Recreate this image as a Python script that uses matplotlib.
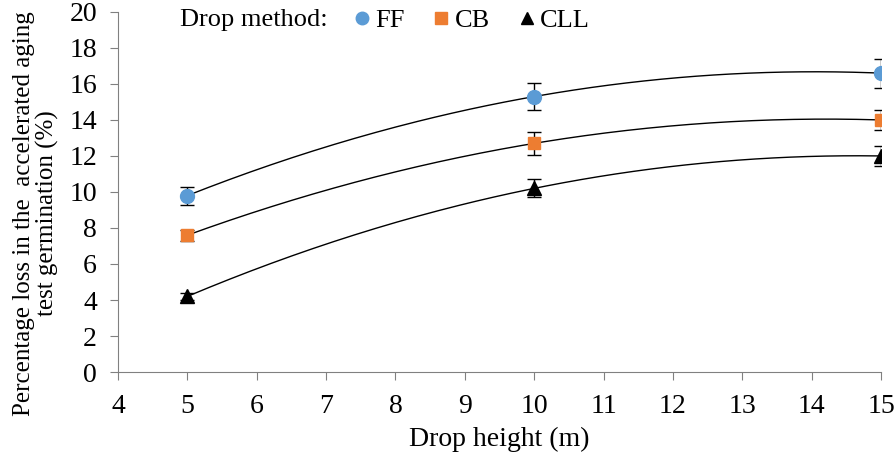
import numpy as np
import matplotlib.pyplot as plt

plt.rcParams['font.family'] = ['Liberation Serif', 'DejaVu Serif']

heights = [5, 10, 15]
ff = [9.8, 15.3, 16.6]
cb = [7.6, 12.7, 14.0]
cll = [4.2, 10.2, 12.0]
ff_err = [0.5, 0.75, 0.8]
cb_err = [0.3, 0.65, 0.55]
cll_err = [0.2, 0.5, 0.55]

fig = plt.figure(figsize=(8.96, 4.59), dpi=100)
ax = fig.add_axes([0.1317, 0.1895, 0.8516, 0.7845])

series = [
    ('FF', ff, ff_err, 'o', '#5B9BD5', 10),
    ('CB', cb, cb_err, 's', '#ED7D31', 9),
    ('CLL', cll, cll_err, '^', '#000000', 10),
]
xs = np.linspace(5, 15, 200)
for name, vals, err, mk, col, ms in series:
    coef = np.polyfit(heights, vals, 2)
    ax.plot(xs, np.polyval(coef, xs), color='black', lw=1, zorder=2)
    ax.errorbar(heights, vals, yerr=err, fmt='none', ecolor='black',
                elinewidth=1, capsize=5, capthick=1, zorder=3)
    ax.plot(heights, vals, linestyle='none', marker=mk, color=col,
            markersize=ms, label=name, zorder=4)

ax.set_xlim(4, 15)
ax.set_ylim(0, 20)
ax.set_xticks(range(4, 16))
ax.set_yticks(range(0, 21, 2))
ax.tick_params(labelsize=20, direction='out', length=5.8, color='#808080')
ax.tick_params(axis='x', pad=10)
ax.tick_params(axis='y', pad=9.4)
for s in ['top', 'right']:
    ax.spines[s].set_visible(False)
for s in ['left', 'bottom']:
    ax.spines[s].set_color('#808080')
ax.set_xlabel('Drop height (m)', fontsize=20, labelpad=6)
ax.set_ylabel('Percentage loss in the  accelerated aging\ntest germination (%)',
              fontsize=18, linespacing=1.05)
ax.yaxis.set_label_coords(-0.077, 0.44)

fig.text(0.2009, 0.956, 'Drop method:', fontsize=19, va='center')
ax.legend(loc='center left', bbox_to_anchor=(0.309, 0.977), ncol=3,
          frameon=False, fontsize=19, handletextpad=0.2, columnspacing=1.1,
          markerscale=0.9, handlelength=0.6, borderpad=0, borderaxespad=0)

fig.savefig('out.png', dpi=100)
